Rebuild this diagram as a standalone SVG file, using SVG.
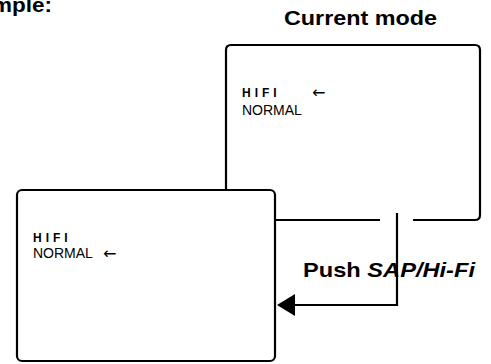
<svg xmlns="http://www.w3.org/2000/svg" width="491" height="364" viewBox="0 0 491 364">
<style>
.box{fill:none;stroke:#000;stroke-width:2.2}
.ln{fill:none;stroke:#000;stroke-width:2.2}
.ttl{font-family:"Liberation Sans",Arial,sans-serif;font-weight:bold;font-size:20.5px;fill:#000}
.hifi{font-family:"Liberation Sans",Arial,sans-serif;font-size:12px;letter-spacing:4px;fill:#000;font-weight:bold}
.nrm{font-family:"Liberation Sans",Arial,sans-serif;font-size:14px;fill:#000}
.arr{font-family:"DejaVu Sans",sans-serif;font-size:16px;fill:#000}
</style>
<rect width="491" height="364" fill="#fff"/>
<text class="ttl" x="-48" y="12" textLength="100" lengthAdjust="spacingAndGlyphs">Example:</text>
<text class="ttl" x="284" y="25" textLength="153" lengthAdjust="spacingAndGlyphs">Current mode</text>
<g id="back">
<path class="box" d="M226,190 L226,50 Q226,45 231,45 L475,45 Q480,45 480,50 L480,215 Q480,220 475,220 L413,220"/>
<path class="box" d="M275,220 L380,220"/>
<text class="hifi" x="242" y="97">HIFI</text>
<text class="nrm" x="242" y="115">NORMAL</text>
<text class="arr" x="312" y="98">←</text>
</g>
<g id="front">
<rect class="box" x="17" y="190" width="258" height="171" rx="5"/>
<text class="hifi" x="33" y="242">HIFI</text>
<text class="nrm" x="33" y="258">NORMAL</text>
<text class="arr" x="103" y="259">←</text>
</g>
<g id="connectors">
<path class="ln" d="M397,213 L397,305 L295,305"/>
<path d="M277,305 L295,294 L295,316 Z" fill="#000"/>
</g>
<text class="ttl" x="303" y="277" font-size="19.5" textLength="172" lengthAdjust="spacingAndGlyphs">Push <tspan font-style="italic">SAP/Hi-Fi</tspan></text>
</svg>
